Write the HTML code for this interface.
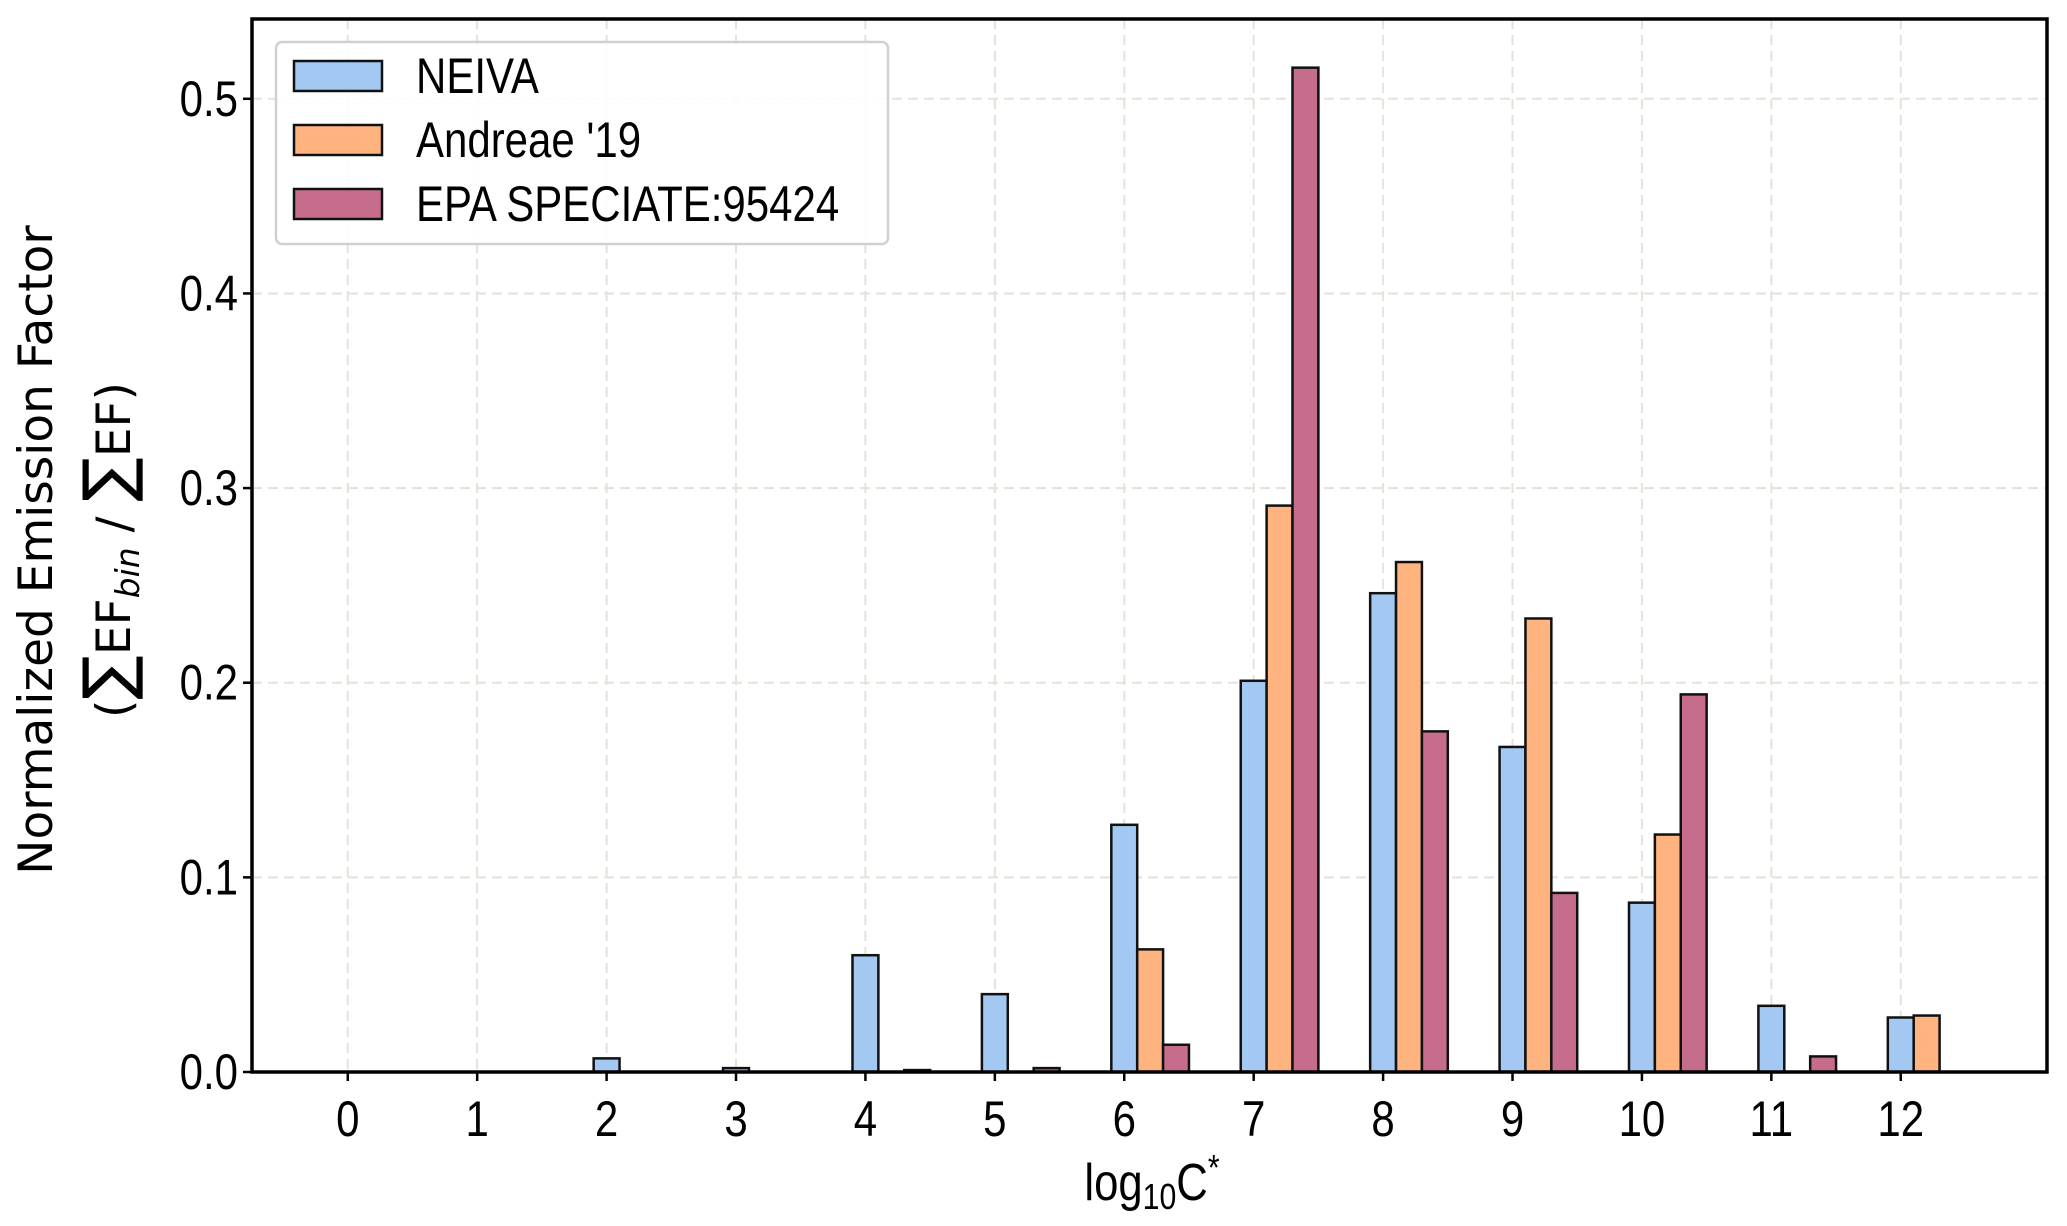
<!DOCTYPE html>
<html><head><meta charset="utf-8"><style>
html,body{margin:0;padding:0;background:#fff;}
svg{display:block;font-family:"Liberation Sans","DejaVu Sans",sans-serif;}
</style></head><body>
<svg id="chart" width="2067" height="1226" viewBox="0 0 2067 1226" xmlns="http://www.w3.org/2000/svg"></svg>
<script>
const categories = [0,1,2,3,4,5,6,7,8,9,10,11,12];
const neiva    = [0,0,0.007,0.002,0.060,0.040,0.127,0.201,0.246,0.167,0.087,0.034,0.028];
const andreae  = [0,0,0,0,0,0,0.063,0.291,0.262,0.233,0.122,0,0.029];
const speciate = [0,0,0,0,0.001,0.002,0.014,0.516,0.175,0.092,0.194,0.008,0];
const yTicks = [0.0,0.1,0.2,0.3,0.4,0.5];
const yTickLabels = ["0.0","0.1","0.2","0.3","0.4","0.5"];
const seriesNames = ["NEIVA","Andreae '19","EPA SPECIATE:95424"];
const colors = ["#a3c8f2","#ffb47f","#c66c8c"];

const NS="http://www.w3.org/2000/svg";
const svg=document.getElementById('chart');
const L=252,R=2047,T=19,B=1072;
const xMin=-0.74,xMax=13.13,yMin=0,yMax=0.541;
const xs=v=>L+(v-xMin)/(xMax-xMin)*(R-L);
const ys=v=>B-(v-yMin)/(yMax-yMin)*(B-T);
function el(tag,attrs,parent){const e=document.createElementNS(NS,tag);for(const k in attrs)e.setAttribute(k,attrs[k]);(parent||svg).appendChild(e);return e;}
const SX=0.84;

yTicks.forEach((t,i)=>{
  const g=el('line',{x1:L,x2:R,y1:ys(t),y2:ys(t),stroke:'#e6e1d9','stroke-width':2,'stroke-dasharray':'10,6'});
  
  
});
categories.forEach(c=>{
  const g=el('line',{x1:xs(c),x2:xs(c),y1:T,y2:B,stroke:'#e6e1d9','stroke-width':2,'stroke-dasharray':'10,6'});
  
  
});

const series=[neiva,andreae,speciate];
const bw=0.2;
series.forEach((s,si)=>{
  s.forEach((v,i)=>{
    const x0=xs(categories[i]-0.1+si*bw), x1=xs(categories[i]-0.1+(si+1)*bw);
    const r=el('rect',{x:x0,y:ys(v),width:x1-x0,height:Math.max(ys(0)-ys(v),0),fill:colors[si],stroke:'#111','stroke-width':2.5});
    
    
  });
});

const fr=el('rect',{x:L,y:T,width:R-L,height:B-T,fill:'none',stroke:'#000','stroke-width':3.5});



yTicks.forEach((t,i)=>{
  el('line',{x1:L-9,x2:L,y1:ys(t),y2:ys(t),stroke:'#000','stroke-width':2.5});
  const tx=el('text',{transform:`translate(${L-14},${ys(t)+17}) scale(${SX},1)`,'text-anchor':'end','font-size':50,fill:'#000'});
  tx.textContent=yTickLabels[i];
  
  
});
categories.forEach(c=>{
  el('line',{x1:xs(c),x2:xs(c),y1:B,y2:B+9,stroke:'#000','stroke-width':2.5});
  const tx=el('text',{transform:`translate(${xs(c)},${B+64}) scale(${SX},1)`,'text-anchor':'middle','font-size':50,fill:'#000'});
  tx.textContent=String(c);
  
  
});

const lg=el('g',{});


el('rect',{x:276,y:42,width:612,height:202,rx:6,fill:'#fff','fill-opacity':0.9,stroke:'#d0d0d0','stroke-width':2.5},lg);
seriesNames.forEach((n,i)=>{
  const cy=76+i*64;
  const p=el('rect',{x:294,y:cy-15,width:88,height:30,fill:colors[i],stroke:'#111','stroke-width':2.5},lg);
  
  
  const t=el('text',{transform:`translate(416,${cy+17}) scale(${SX},1)`,'font-size':50,fill:'#000'},lg);
  t.textContent=n;
  
  
});

const xl=el('text',{transform:`translate(1152,1200) scale(${SX},1)`,'text-anchor':'middle','font-size':52,fill:'#000'});
xl.innerHTML='log<tspan font-size="36" dy="9">10</tspan><tspan dy="-9">C</tspan><tspan font-size="36" dy="-20">*</tspan>';



const yl=el('text',{transform:'translate(52,550) rotate(-90)','text-anchor':'middle','font-size':47,'font-family':'"DejaVu Sans",sans-serif',fill:'#000'});
yl.textContent='Normalized Emission Factor';


const yl2=el('text',{transform:'translate(130,550) rotate(-90)','text-anchor':'middle','font-size':47,'font-family':'"DejaVu Sans",sans-serif',fill:'#000'});
yl2.innerHTML='(<tspan font-size="66">∑</tspan>EF<tspan font-size="33" font-style="italic" dy="9">bin</tspan><tspan dy="-9"> / </tspan><tspan font-size="66">∑</tspan>EF)';


</script>
</body></html>
